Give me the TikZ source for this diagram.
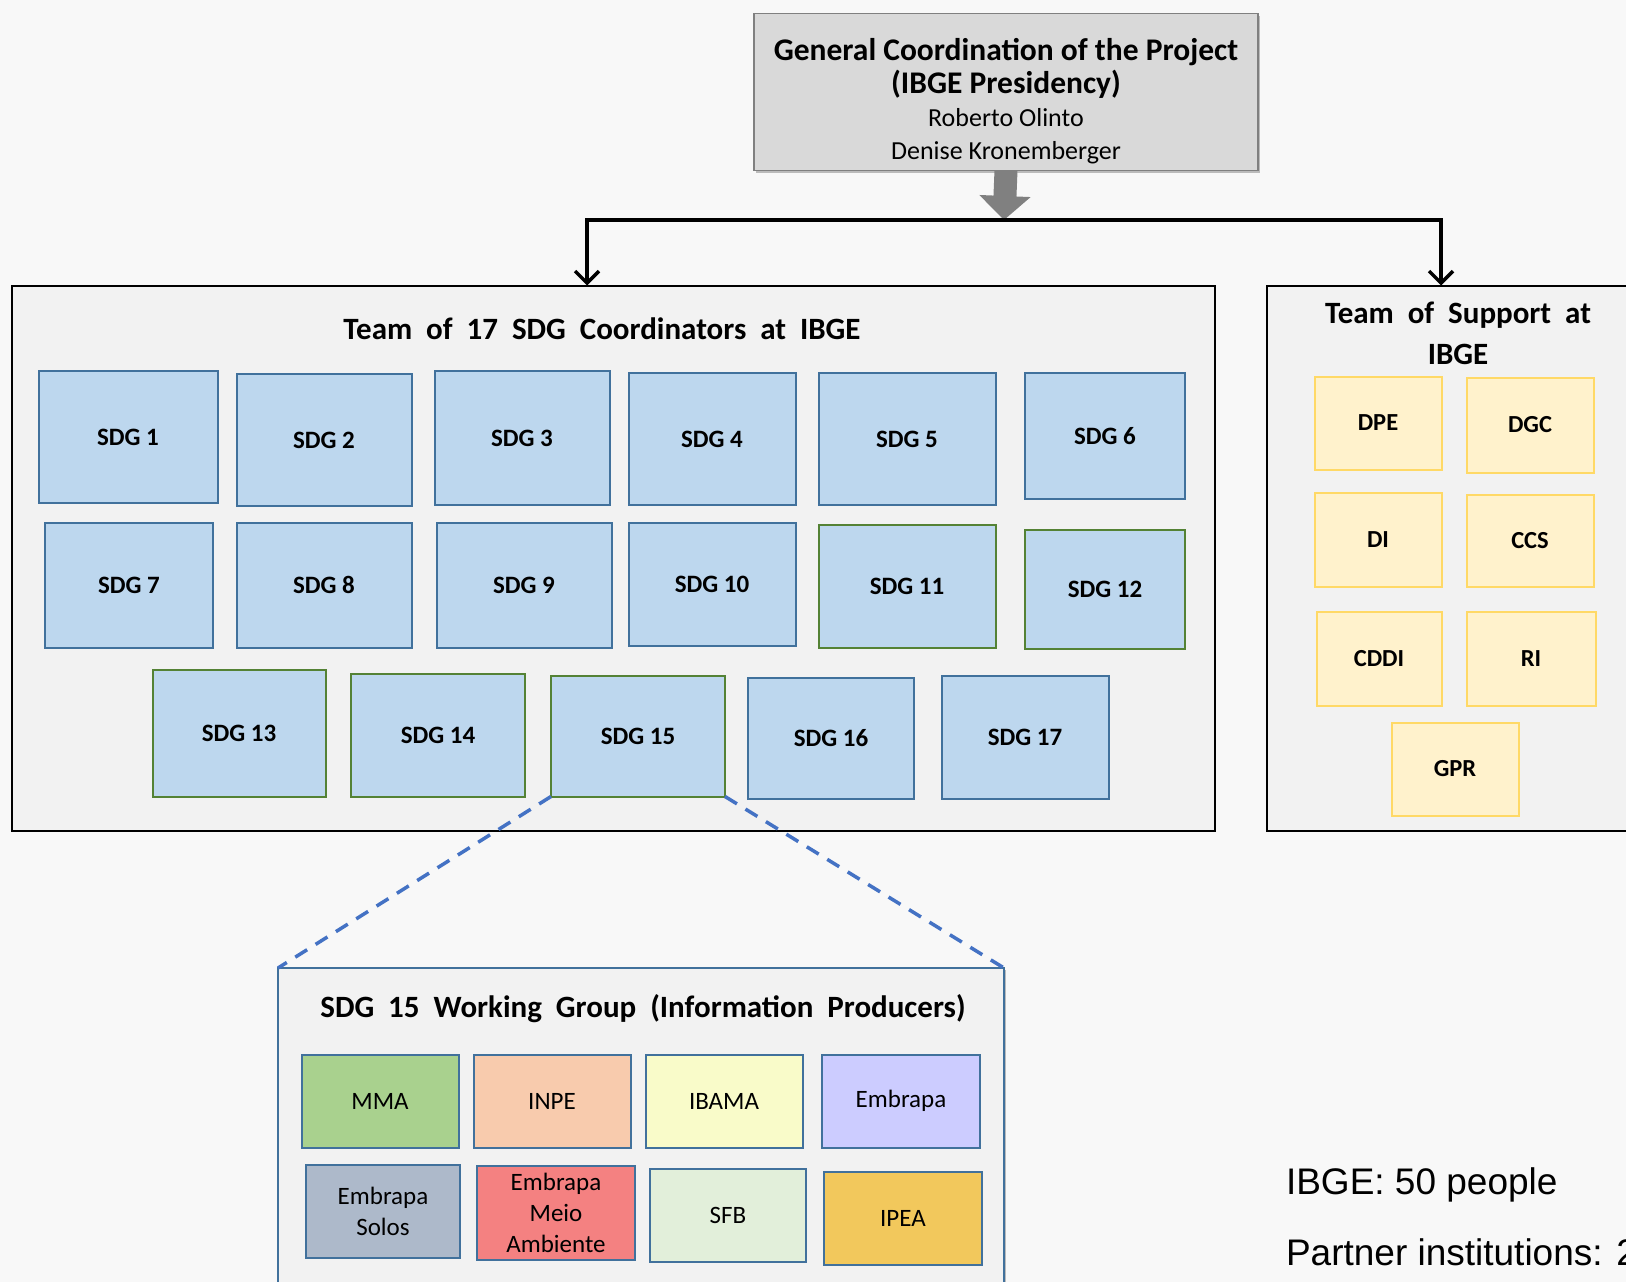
\documentclass[tikz,border=0pt]{standalone}
\usepackage{fontspec}
\setmainfont{Carlito}
\newfontfamily\arialfont{Liberation Sans}
\usetikzlibrary{positioning,arrows.meta,shadows}

\definecolor{pagebg}{HTML}{F8F8F8}
\definecolor{panelbg}{HTML}{F2F2F2}
\definecolor{sdgfill}{HTML}{BDD7EE}
\definecolor{sdgblue}{HTML}{41719C}
\definecolor{sdggreen}{HTML}{548235}
\definecolor{supfill}{HTML}{FFF2CC}
\definecolor{supline}{HTML}{FFD966}
\definecolor{linkblue}{HTML}{4472C4}
\newcommand\widespaces{\spaceskip=0.45em\relax}

\begin{document}
\begin{tikzpicture}[
    x=1pt,y=-1pt,
    every node/.style={inner sep=0pt,outer sep=0pt},
    panel/.style={
      draw=black,line width=2pt,fill=panelbg
    },
    sdgbox/.style={
      draw=sdgblue,line width=2pt,fill=sdgfill,
      font=\fontsize{25}{30}\selectfont\bfseries
    },
    greenbox/.style={
      sdgbox,draw=sdggreen
    },
    supbox/.style={
      draw=supline,line width=2pt,fill=supfill,
      font=\fontsize{24.5}{30}\selectfont\bfseries
    },
    prodbox/.style={
      draw=sdgblue,line width=2pt,
      font=\fontsize{25}{31}\selectfont,align=center
    },
    paneltitle/.style={
      font=\fontsize{31}{41}\selectfont\bfseries\widespaces,align=center
    },
    link/.style={
      draw=linkblue,line width=3.5pt,dash pattern=on 14pt off 10pt
    }]

  \fill[pagebg] (0,0) rectangle (1626,1282);
  \useasboundingbox (0,0) rectangle (1626,1282);

  % general coordination
  \node[draw=gray,line width=1.6pt,fill=gray!30,drop shadow,
        minimum width=504pt,minimum height=157pt] (coord) at (1006,92) {};
  \node[align=center,font=\fontsize{26}{33}\selectfont] (coordtext) at (1006,101)
    {{\fontsize{31.5}{35}\selectfont\bfseries General Coordination of the Project}\\
     {\fontsize{31.5}{35}\selectfont\bfseries (IBGE Presidency)}\\
     Roberto Olinto\\
     Denise Kronemberger};

  % the two teams
  \node[panel,minimum width=1203pt,minimum height=545pt] (team) at (613,558) {};
  \node[paneltitle] (teamtitle) at (602,329) {Team of 17 SDG Coordinators at IBGE};
  \node[panel,minimum width=373pt,minimum height=545pt] (support) at (1453,558) {};
  \node[paneltitle] (suptitle) at (1458,333) {Team of Support at\\IBGE};

  \coordinate (split) at (1004,220);
  \draw[line width=23pt,draw=gray,-{Triangle[width=50pt,length=24pt]}]
    (coord.south) -- (split);
  \draw[line width=3.5pt,-{Straight Barb[length=12pt,width=24pt]}]
    (split) -| ([xshift=-26pt]team.north);
  \draw[line width=3.5pt,-{Straight Barb[length=12pt,width=24pt]}]
    (split) -| ([xshift=-12pt]support.north);

  % SDG coordinators
  \node[sdgbox,minimum width=179pt,minimum height=132pt] (sdg1) at (128,437) {SDG 1};
  \node[sdgbox,minimum width=175pt,minimum height=132pt] (sdg2) at (324,440) {SDG 2};
  \node[sdgbox,minimum width=175pt,minimum height=134pt] (sdg3) at (522,438) {SDG 3};
  \node[sdgbox,minimum width=167pt,minimum height=132pt] (sdg4) at (712,439) {SDG 4};
  \node[sdgbox,minimum width=177pt,minimum height=132pt] (sdg5) at (907,439) {SDG 5};
  \node[sdgbox,minimum width=160pt,minimum height=126pt] (sdg6) at (1105,436) {SDG 6};
  \node[sdgbox,minimum width=168pt,minimum height=125pt] (sdg7) at (129,585) {SDG 7};
  \node[sdgbox,minimum width=175pt,minimum height=125pt] (sdg8) at (324,585) {SDG 8};
  \node[sdgbox,minimum width=175pt,minimum height=125pt] (sdg9) at (524,585) {SDG 9};
  \node[sdgbox,minimum width=167pt,minimum height=123pt] (sdg10) at (712,584) {SDG 10};
  \node[greenbox,minimum width=177pt,minimum height=123pt] (sdg11) at (907,586) {SDG 11};
  \node[greenbox,minimum width=160pt,minimum height=119pt] (sdg12) at (1105,589) {SDG 12};
  \node[greenbox,minimum width=173pt,minimum height=127pt] (sdg13) at (239,733) {SDG 13};
  \node[greenbox,minimum width=174pt,minimum height=123pt] (sdg14) at (438,735) {SDG 14};
  \node[greenbox,minimum width=174pt,minimum height=121pt] (sdg15) at (638,736) {SDG 15};
  \node[sdgbox,minimum width=166pt,minimum height=121pt] (sdg16) at (831,738) {SDG 16};
  \node[sdgbox,minimum width=167pt,minimum height=123pt] (sdg17) at (1025,737) {SDG 17};

  % support units
  \node[supbox,minimum width=127pt,minimum height=93pt] (dpe) at (1378,423) {DPE};
  \node[supbox,minimum width=127pt,minimum height=95pt] (dgc) at (1530,425) {DGC};
  \node[supbox,minimum width=127pt,minimum height=94pt] (di) at (1378,540) {DI};
  \node[supbox,minimum width=127pt,minimum height=92pt] (ccs) at (1530,541) {CCS};
  \node[supbox,minimum width=125pt,minimum height=94pt] (cddi) at (1379,659) {CDDI};
  \node[supbox,minimum width=129pt,minimum height=94pt] (ri) at (1531,659) {RI};
  \node[supbox,minimum width=127pt,minimum height=93pt] (gpr) at (1455,769) {GPR};

  % working group of SDG 15
  \node[draw=sdgblue,line width=1.6pt,fill=panelbg,drop shadow,
        minimum width=726pt,minimum height=332pt] (wg) at (641,1134) {};
  \node[paneltitle] (wgtitle) at (643,1009) {SDG 15 Working Group (Information Producers)};
  \draw[link] (sdg15.south west) -- (wg.north west);
  \draw[link] (sdg15.south east) -- (wg.north east);

  \node[prodbox,fill={rgb,255:red,169;green,209;blue,142},
        minimum width=157pt,minimum height=93pt] (mma) at (380,1101) {MMA};
  \node[prodbox,fill={rgb,255:red,248;green,203;blue,173},
        minimum width=157pt,minimum height=93pt] (inpe) at (552,1101) {INPE};
  \node[prodbox,fill={rgb,255:red,249;green,251;blue,201},
        minimum width=157pt,minimum height=93pt] (ibama) at (724,1101) {IBAMA};
  \node[prodbox,fill={rgb,255:red,204;green,204;blue,255},
        minimum width=158pt,minimum height=93pt] (embrapa) at (901,1101) {Embrapa};
  \node[prodbox,fill={rgb,255:red,173;green,185;blue,202},
        minimum width=154pt,minimum height=93pt] (solos) at (383,1211) {Embrapa\\Solos};
  \node[prodbox,fill={rgb,255:red,244;green,129;blue,129},
        minimum width=158pt,minimum height=94pt] (meio) at (556,1213) {Embrapa\\Meio\\Ambiente};
  \node[prodbox,fill={rgb,255:red,226;green,239;blue,218},
        minimum width=156pt,minimum height=93pt] (sfb) at (728,1215) {SFB};
  \node[prodbox,fill={rgb,255:red,242;green,200;blue,92},
        minimum width=158pt,minimum height=93pt] (ipea) at (903,1218) {IPEA};

  % totals
  \node[anchor=west,font=\arialfont\fontsize{37}{44}\selectfont] (ibgecount) at (1286,1185) {IBGE: 50 people};
  \node[anchor=west,font=\arialfont\fontsize{37}{44}\selectfont] (partners) at (1286,1252) {Partner institutions: 2};
\end{tikzpicture}
\end{document}
